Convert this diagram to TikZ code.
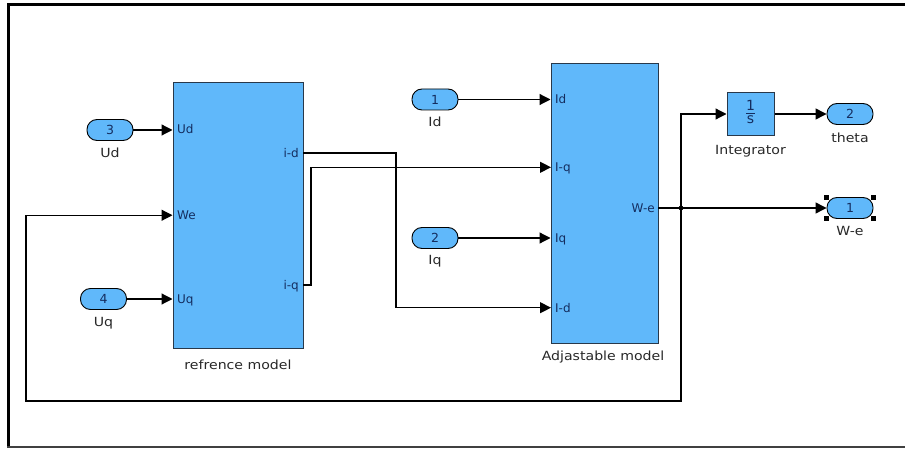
\documentclass[tikz,border=0pt]{standalone}
\usepackage{fontspec}
\setmainfont{DejaVu Sans}
\newfontfamily\lblfont[FakeStretch=1.12]{DejaVu Sans}
\usetikzlibrary{arrows.meta,calc}
\definecolor{blkfill}{RGB}{96,184,250}
\definecolor{edgecol}{RGB}{40,56,74}
\definecolor{navytxt}{RGB}{20,45,95}
\definecolor{lbltxt}{RGB}{40,40,40}
\begin{document}
\begin{tikzpicture}[x=1pt,y=-1pt,
  blockbox/.style={draw=edgecol, fill=blkfill, line width=1pt, inner sep=0pt},
  portbox/.style={draw=black, fill=blkfill, line width=0.9pt, rounded corners=10pt,
    minimum width=46pt, minimum height=21pt, inner sep=0pt,
    font=\fontsize{12.5}{13}\selectfont, text=navytxt},
  lbl/.style={font=\lblfont\fontsize{12.6}{13}\selectfont, text=lbltxt, inner sep=0pt, anchor=base},
  pin/.style={font=\fontsize{12}{13}\selectfont, text=navytxt, inner sep=0pt},
  conn/.style={line width=1.2pt, draw=black},
  arr/.style={conn, -{Triangle[length=11pt,width=11pt]}},
  handle/.style={fill=black},
]
\useasboundingbox (0,0) rectangle (905,449);
\fill[white] (0,0) rectangle (905,449);
% frame
\draw[line width=3pt] (905,4.5) -- (8.5,4.5) -- (8.5,446);
\draw[line width=2pt, draw=black!75] (7,446.5) -- (905,446.5);

% blocks
\node[blockbox, minimum width=130pt, minimum height=265.5pt] (ref) at (238,215.25) {};
\node[blockbox, minimum width=107pt, minimum height=279.5pt] (adj) at (604.5,203.75) {};
\node[blockbox, minimum width=47pt, minimum height=43pt, text=navytxt, font=\fontsize{14}{15}\selectfont] (integ) at (750.5,114)
  {\renewcommand{\arraystretch}{0.95}\begin{tabular}{@{}c@{}}1\\[-1pt]\hline s\end{tabular}};

% block labels
\node[lbl] (reflbl) at (238,369) {refrence model};
\node[lbl] (adjlbl) at (603,360) {Adjastable model};
\node[lbl] (intlbl) at (750.5,154.5) {Integrator};

% ports
\node[portbox] (p3) at (110,130) {3};
\node[portbox] (p4) at (103.5,299) {4};
\node[portbox] (p1) at (435,99.5) {1};
\node[portbox] (p2) at (435,238) {2};
\node[portbox] (pth) at (850,114) {2};
\node[portbox] (pwe) at (850,208) {1};
\node[lbl] (l3) at (110,157.5) {Ud};
\node[lbl] (l4) at (103.5,326.5) {Uq};
\node[lbl] (l1) at (435,127) {Id};
\node[lbl] (l2) at (435,265) {Iq};
\node[lbl] (lth) at (850,143) {theta};
\node[lbl] (lwe) at (850,236) {W-e};

% selection handles on W-e port
\foreach \c in {north west, north east, south west, south east}
  \fill[handle] ($(pwe.\c)+(-2.5,-2.5)$) rectangle +(5,5);

% inner pin labels
\node[pin, anchor=base west] (pUd) at (177,134) {Ud};
\node[pin, anchor=base west] (pWe) at (177,219.8) {We};
\node[pin, anchor=base west] (pUq) at (177,303) {Uq};
\node[pin, anchor=base east] (pid) at (299,157.5) {i-d};
\node[pin, anchor=base east] (piq) at (299,289) {i-q};
\node[pin, anchor=base west] (aId) at (555,104) {Id};
\node[pin, anchor=base west] (aIq2) at (555,171.5) {I-q};
\node[pin, anchor=base west] (aIq) at (555,242.5) {Iq};
\node[pin, anchor=base west] (aId2) at (555,312) {I-d};
\node[pin, anchor=base east] (aWe) at (655,212.5) {W-e};

% connection points
\coordinate (oid) at (303,153);
\coordinate (jid) at (396,153);
\coordinate (inId2) at (551,307.7);
\coordinate (oiq) at (303,285);
\coordinate (jiq) at (311,285);
\coordinate (kiq) at (311,167.3);
\coordinate (inIq2) at (551,167.3);
\coordinate (owe) at (658,208);
\coordinate (br) at (681,208);
\coordinate (fbR) at (681,401);
\coordinate (fbL) at (26,401);

% connectors
\draw[arr] (p3.east) -- (p3.east -| ref.west);
\draw[arr] (p4.east) -- (p4.east -| ref.west);
\draw[arr] (p1.east) -- (p1.east -| adj.west);
\draw[arr] (p2.east) -- (p2.east -| adj.west);
\draw[arr] (oid) -- (jid) |- (inId2);
\draw[arr] (oiq) -- (jiq) -- (kiq) -- (inIq2);
\draw[arr] (owe) -- (br) -- (pwe.west);
\draw[arr] (br) |- (integ.west);
\draw[arr] (integ.east) -- (pth.west);
\draw[arr] (br) -- (fbR) -- (fbL) |- (ref.west);
\fill (br) circle (2.4);
\end{tikzpicture}
\end{document}
